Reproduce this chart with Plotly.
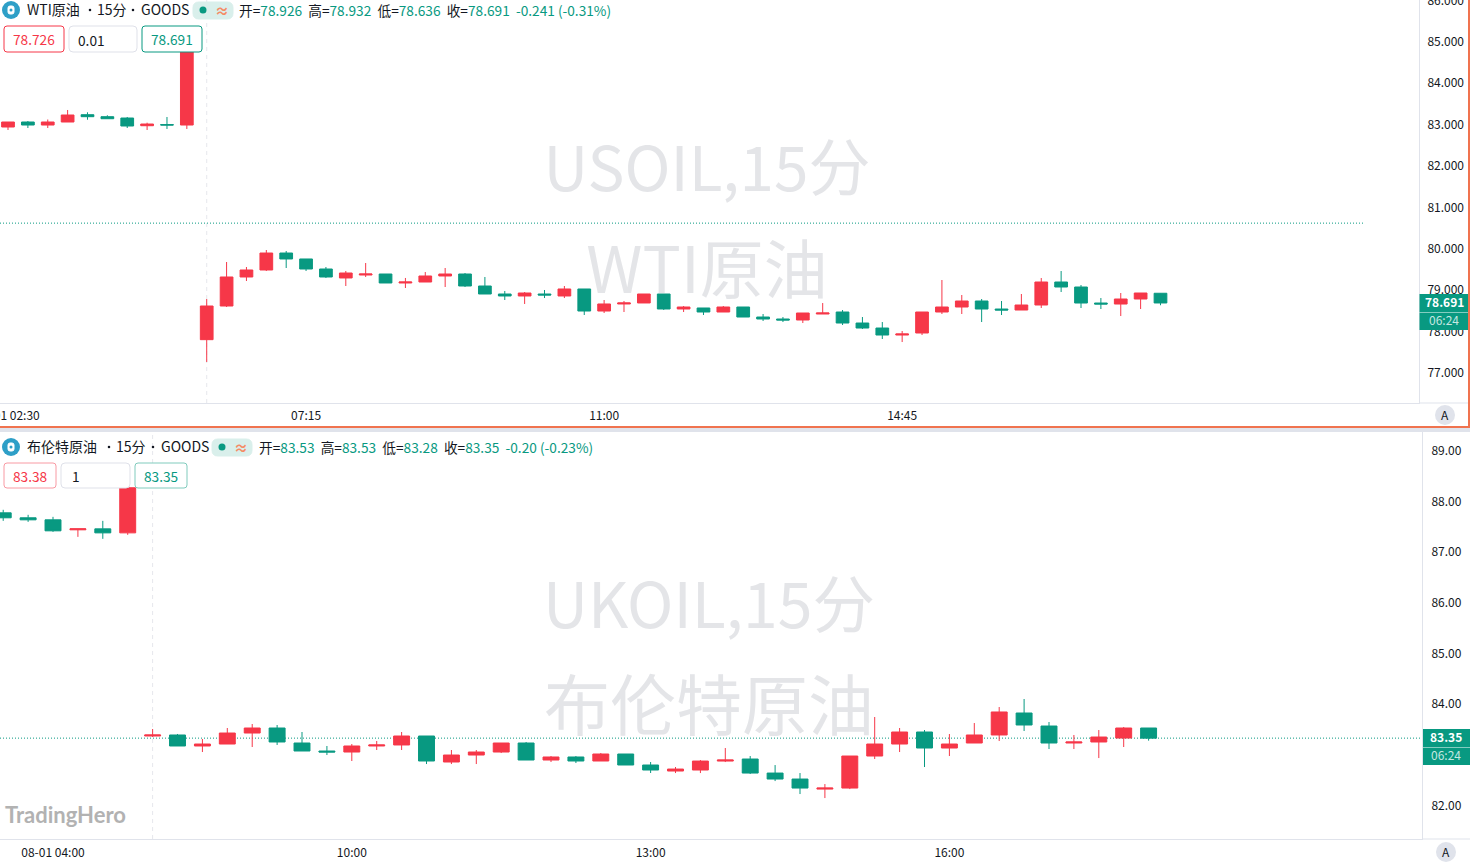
# two stacked 15 minute candlestick panes, WTI above and Brent below
import plotly.graph_objects as go

W, H = 1470, 862
FONT = "Noto Sans CJK SC"
RED = "#f63748"
GREEN = "#089981"
INK = "#131722"
LINE = "#e0e3eb"

# WTI, bars 0..58
top_open = [82.942, 83.063, 82.990, 83.063, 83.239, 83.191, 83.159, 82.973, 83.000, 82.990,
            77.805, 78.618, 79.319, 79.488, 79.898, 79.754, 79.512, 79.295, 79.367, 79.391,
            79.174, 79.198, 79.343, 79.391, 79.101, 78.908, 78.860, 78.908, 78.860, 79.029,
            78.497, 78.667, 78.691, 78.908, 78.546, 78.570, 78.473, 78.594, 78.352, 78.304,
            78.280, 78.425, 78.473, 78.207, 78.086, 77.917, 77.966, 78.473, 78.594, 78.739,
            78.545, 78.521, 78.642, 79.198, 79.077, 78.690, 78.666, 78.787, 78.926]
top_high = [83.063, 83.087, 83.123, 83.353, 83.297, 83.225, 83.184, 83.046, 83.184, 85.100,
            78.787, 79.681, 79.560, 79.971, 79.947, 79.754, 79.560, 79.464, 79.657, 79.391,
            79.295, 79.439, 79.536, 79.415, 79.319, 78.981, 78.956, 79.005, 79.101, 79.029,
            78.763, 78.739, 78.908, 78.908, 78.618, 78.570, 78.618, 78.594, 78.425, 78.352,
            78.449, 78.690, 78.521, 78.352, 78.231, 78.014, 78.473, 79.246, 78.884, 78.787,
            78.739, 78.908, 79.294, 79.463, 79.125, 78.811, 78.932, 78.932, 78.932]
top_low = [82.870, 82.918, 82.918, 83.063, 83.118, 83.142, 82.918, 82.870, 82.894, 82.894,
           77.266, 78.594, 79.222, 79.464, 79.536, 79.464, 79.295, 79.101, 79.319, 79.174,
           79.053, 79.198, 79.077, 79.077, 78.908, 78.763, 78.667, 78.811, 78.811, 78.401,
           78.449, 78.473, 78.691, 78.522, 78.473, 78.400, 78.473, 78.352, 78.256, 78.231,
           78.207, 78.425, 78.159, 78.062, 77.821, 77.748, 77.917, 78.425, 78.425, 78.231,
           78.400, 78.521, 78.570, 78.956, 78.570, 78.545, 78.376, 78.545, 78.636]
top_close = [83.063, 82.990, 83.063, 83.232, 83.191, 83.142, 82.966, 83.014, 82.990, 85.040,
             78.618, 79.319, 79.488, 79.898, 79.754, 79.512, 79.319, 79.415, 79.391, 79.174,
             79.198, 79.343, 79.391, 79.101, 78.908, 78.860, 78.932, 78.884, 79.029, 78.497,
             78.667, 78.691, 78.908, 78.546, 78.594, 78.473, 78.594, 78.352, 78.304, 78.280,
             78.449, 78.449, 78.207, 78.086, 77.917, 77.942, 78.473, 78.594, 78.739, 78.545,
             78.521, 78.642, 79.198, 79.077, 78.690, 78.666, 78.787, 78.932, 78.691]
top_bars = list(range(len(top_open)))

# Brent, bars -2..44 (bar 0 is 04:00)
bot_open = [87.775, 87.677, 87.637, 87.440, 87.459, 87.380, 83.372, 83.392, 83.175, 83.214,
            83.431, 83.530, 83.234, 83.076, 83.056, 83.175, 83.195, 83.372, 82.859, 82.997,
            83.056, 83.234, 82.898, 82.958, 82.879, 83.017, 82.800, 82.681, 82.701, 82.878,
            82.918, 82.641, 82.523, 82.325, 82.345, 82.977, 83.214, 83.451, 83.135, 83.234,
            83.392, 83.826, 83.569, 83.234, 83.254, 83.332, 83.530]
bot_high = [87.835, 87.736, 87.696, 87.459, 87.617, 88.280, 83.510, 83.412, 83.313, 83.530,
            83.609, 83.589, 83.451, 83.175, 83.214, 83.274, 83.451, 83.372, 83.096, 83.096,
            83.234, 83.254, 82.977, 82.977, 83.037, 83.017, 82.859, 82.760, 82.898, 83.135,
            82.977, 82.799, 82.641, 82.424, 82.977, 83.747, 83.530, 83.490, 83.411, 83.628,
            83.944, 84.102, 83.648, 83.392, 83.490, 83.550, 83.530]
bot_low = [87.617, 87.597, 87.400, 87.301, 87.262, 87.341, 83.352, 83.175, 83.056, 83.214,
           83.155, 83.195, 83.076, 82.997, 82.879, 83.096, 83.096, 82.819, 82.819, 82.819,
           83.036, 82.898, 82.859, 82.839, 82.879, 82.800, 82.642, 82.641, 82.641, 82.858,
           82.622, 82.483, 82.227, 82.148, 82.325, 82.918, 83.056, 82.760, 82.977, 83.234,
           83.273, 83.471, 83.115, 83.115, 82.937, 83.155, 83.280]
bot_close = [87.677, 87.637, 87.420, 87.459, 87.380, 88.270, 83.392, 83.175, 83.214, 83.431,
             83.530, 83.254, 83.076, 83.056, 83.175, 83.195, 83.372, 82.879, 82.997, 83.056,
             83.234, 82.898, 82.958, 82.879, 83.017, 82.800, 82.701, 82.720, 82.878, 82.898,
             82.641, 82.523, 82.345, 82.345, 82.977, 83.214, 83.451, 83.135, 83.214, 83.392,
             83.846, 83.589, 83.234, 83.254, 83.352, 83.530, 83.330]
bot_bars = list(range(-2, len(bot_open) - 2))

# axis ticks
top_price_ticks = [77, 78, 79, 80, 81, 82, 83, 84, 85, 86]
top_price_text = ["77.000", "78.000", "79.000", "80.000", "81.000", "82.000", "83.000", "84.000", "85.000", "86.000"]
bot_price_ticks = [82, 83, 84, 85, 86, 87, 88, 89]
bot_price_text = ["82.00", "83.00", "84.00", "85.00", "86.00", "87.00", "88.00", "89.00"]
top_time_ticks = [0, 15, 30, 45]
top_time_text = ["08-01 02:30", "07:15", "11:00", "14:45"]
bot_time_ticks = [0, 12, 24, 36]
bot_time_text = ["08-01 04:00", "10:00", "13:00", "16:00"]

# levels and session breaks
top_level = 80.62
bot_level = 83.33
top_break = 10
bot_break = 4


def px(x):
    return x / W


def py(y):
    return 1 - y / H


def rbox(x0, y0, x1, y1, r, fill, edge):
    # rounded box given in screen pixels
    a, b, c, d = px(x0), py(y0), px(x1), py(y1)
    rx, ry = r / W, r / H
    path = (f"M {a + rx} {b} L {c - rx} {b} Q {c} {b} {c} {b - ry} L {c} {d + ry} Q {c} {d} {c - rx} {d} "
            f"L {a + rx} {d} Q {a} {d} {a} {d + ry} L {a} {b - ry} Q {a} {b} {a + rx} {b} Z")
    return dict(type="path", path=path, xref="paper", yref="paper", fillcolor=fill,
                line=dict(color=edge, width=1), layer="above")


def rect(x0, y0, x1, y1, fill):
    return dict(type="rect", xref="paper", yref="paper", x0=px(x0), x1=px(x1), y0=py(y0), y1=py(y1),
                fillcolor=fill, line=dict(width=0), layer="above")


def circle(cx, cy, r, fill):
    return dict(type="circle", xref="paper", yref="paper", x0=px(cx - r), x1=px(cx + r),
                y0=py(cy + r), y1=py(cy - r), fillcolor=fill, line=dict(width=0), layer="above")


def watermark(cx, cy, text, size):
    # a label on an empty shape stays underneath the candles
    return dict(type="rect", xref="paper", yref="paper", x0=px(cx - 250), x1=px(cx + 250),
                y0=py(cy + 45), y1=py(cy - 45), line=dict(width=0), fillcolor="rgba(0,0,0,0)", layer="below",
                label=dict(text=text, textposition="middle center",
                           font=dict(family=FONT, size=size, color="#e4e5e8")))


def note(x, y, text, size=13.7, color=INK, anchor="left", family=FONT):
    return dict(x=px(x), y=py(y), xref="paper", yref="paper", text=text, showarrow=False, xanchor=anchor,
                yanchor="middle", align=anchor, font=dict(family=family, size=size, color=color),
                xshift=0, yshift=0, borderpad=0)


def val(text):
    return f'<span style="color:{GREEN}">{text}</span>'


fig = go.Figure()
fig.add_trace(go.Candlestick(x=top_bars, open=top_open, high=top_high, low=top_low, close=top_close,
                             xaxis="x", yaxis="y", whiskerwidth=0,
                             increasing=dict(line=dict(color=RED, width=1), fillcolor=RED),
                             decreasing=dict(line=dict(color=GREEN, width=1), fillcolor=GREEN)))
fig.add_trace(go.Candlestick(x=bot_bars, open=bot_open, high=bot_high, low=bot_low, close=bot_close,
                             xaxis="x2", yaxis="y2", whiskerwidth=0,
                             increasing=dict(line=dict(color=RED, width=1), fillcolor=RED),
                             decreasing=dict(line=dict(color=GREEN, width=1), fillcolor=GREEN)))

shapes = [
    watermark(707, 174, "USOIL,15分", 62),
    watermark(707, 275, "WTI原油", 64),
    watermark(709, 611, "UKOIL,15分", 62.5),
    watermark(709, 712, "布伦特原油", 66),
    # session breaks
    dict(type="line", xref="x", yref="y domain", x0=top_break, x1=top_break, y0=0, y1=1,
         line=dict(color="#e6e7ec", width=1, dash="4px,4px"), layer="below"),
    dict(type="line", xref="x2", yref="y2 domain", x0=bot_break, x1=bot_break, y0=0, y1=1,
         line=dict(color="#e6e7ec", width=1, dash="4px,4px"), layer="below"),
    # price levels
    dict(type="line", xref="paper", yref="y", x0=0, x1=px(1363), y0=top_level, y1=top_level,
         line=dict(color=GREEN, width=1, dash="1px,2px"), layer="below"),
    dict(type="line", xref="paper", yref="y2", x0=0, x1=px(1422), y0=bot_level, y1=bot_level,
         line=dict(color=GREEN, width=1, dash="1px,2px"), layer="below"),
    # time axis rules run on under the price scale
    rect(1419, 402.5, 1468, 403.5, LINE),
    rect(1422, 838.5, W, 839.5, LINE),
    # pane separator and the orange frame of the active pane
    rect(0, 427.5, W, 432, LINE),
    rect(0, 426, W, 428, "#f0734f"),
    rect(1468, 0, W, 428, "#f0734f"),
    # title icons and status pills
    circle(11, 10, 9, "#2e9fc7"),
    rbox(8, 6, 14, 14, 2, "white", "white"),
    circle(11, 10, 1.5, "#2e9fc7"),
    rbox(193, 2, 233, 19, 6, "#d9efeb", "#d9efeb"),
    circle(203, 10, 3.5, GREEN),
    circle(133 - 43, 10, 1.3, INK),
    circle(133, 10, 1.3, INK),
    circle(11, 447, 9, "#2e9fc7"),
    rbox(8, 443, 14, 451, 2, "white", "white"),
    circle(11, 447, 1.5, "#2e9fc7"),
    rbox(212, 439, 252, 456, 6, "#d9efeb", "#d9efeb"),
    circle(222, 447, 3.5, GREEN),
    circle(109, 447, 1.3, INK),
    circle(153, 447, 1.3, INK),
    # quote boxes
    rbox(4, 26, 64, 52, 3, "white", RED),
    rbox(69, 26, 137, 52, 4, "white", "#dfe1e9"),
    rbox(142, 26, 202, 52, 3, "white", GREEN),
    rbox(4, 463, 56, 488, 3, "white", "#f89aa3"),
    rbox(61, 463, 130, 488, 4, "white", "#dfe1e9"),
    rbox(135, 463, 187, 488, 3, "white", "#80cbbd"),
    # last price tags
    rect(1419.5, 294, 1468, 312, GREEN),
    rect(1419.5, 312.5, 1468, 330, GREEN),
    rect(1423, 729, W, 747, GREEN),
    rect(1423, 747.5, W, 765, GREEN),
    # auto scale buttons
    circle(1445, 415, 10, LINE),
    circle(1446, 852, 10, LINE),
]

notes = [
    note(26, 9.5, "WTI原油", size=14),
    note(96, 9.5, "15分", size=14),
    note(140, 9.5, "GOODS", size=14),
    note(222, 10, "<b>≈</b>", size=14, color="#f58b66", anchor="center"),
    note(238, 10, "开=" + val("78.926") + "  高=" + val("78.932") + "  低=" + val("78.636") + "  收="
         + val("78.691") + "  " + val("-0.241 (-0.31%)")),
    note(34, 39, "78.726", color=RED, anchor="center"),
    note(77, 39.5, "0.01"),
    note(172, 39, "78.691", color=GREEN, anchor="center"),
    note(26, 446.5, "布伦特原油", size=14),
    note(115, 446.5, "15分", size=14),
    note(160, 446.5, "GOODS", size=14),
    note(241, 447, "<b>≈</b>", size=14, color="#f58b66", anchor="center"),
    note(258, 447, "开=" + val("83.53") + "  高=" + val("83.53") + "  低=" + val("83.28") + "  收="
         + val("83.35") + "  " + val("-0.20 (-0.23%)")),
    note(30, 476, "83.38", color=RED, anchor="center"),
    note(71, 476, "1"),
    note(161, 476, "83.35", color=GREEN, anchor="center"),
    note(1444, 301.5, "<b>78.691</b>", size=12, color="white", anchor="center"),
    note(1444, 319.5, "06:24", size=12, color="#c5e8e1", anchor="center"),
    note(1446, 736.5, "<b>83.35</b>", size=12, color="white", anchor="center"),
    note(1446, 754.5, "06:24", size=12, color="#c5e8e1", anchor="center"),
    note(1445, 414, "A", size=12, anchor="center"),
    note(1446, 851, "A", size=12, anchor="center"),
    note(4, 814, "<b>TradingHero</b>", size=22, color="#b2b2b2", family="Lato"),
]

x_common = dict(showgrid=False, zeroline=False, showline=True, linecolor=LINE, linewidth=1, ticks="",
                rangeslider=dict(visible=False), tickfont=dict(family=FONT, size=12, color=INK),
                ticklabeloverflow="allow", automargin=False)
y_common = dict(showgrid=False, zeroline=False, showline=True, linecolor=LINE, linewidth=1, ticks="",
                side="right", tickfont=dict(family=FONT, size=12, color=INK),
                ticklabeloverflow="allow", automargin=False)

fig.update_layout(
    width=W, height=H, margin=dict(l=0, r=0, t=0, b=0), paper_bgcolor="white", plot_bgcolor="white",
    showlegend=False, boxgap=0.36, boxgroupgap=0, shapes=shapes, annotations=notes,
    xaxis=dict(domain=[0, px(1419)], range=[-0.403, 71.01], tickmode="array", ticklabelstandoff=2,
               tickvals=top_time_ticks, ticktext=top_time_text, anchor="y", **x_common),
    yaxis=dict(domain=[py(403), 1], range=[76.275, 86.01], tickmode="array", ticklabelstandoff=5,
               tickvals=top_price_ticks, ticktext=top_price_text, anchor="x", **y_common),
    xaxis2=dict(domain=[0, px(1422)], range=[-2.129, 54.98], tickmode="array", ticklabelstandoff=3,
                tickvals=bot_time_ticks, ticktext=bot_time_text, anchor="y2", **x_common),
    yaxis2=dict(domain=[py(839), py(432)], range=[81.34, 89.37], tickmode="array", ticklabelstandoff=6,
                tickvals=bot_price_ticks, ticktext=bot_price_text, anchor="x2", **y_common),
)

fig.write_html("out.html", config={"displayModeBar": False},
               post_script="document.body.style.margin='0';document.body.style.overflow='hidden';")
